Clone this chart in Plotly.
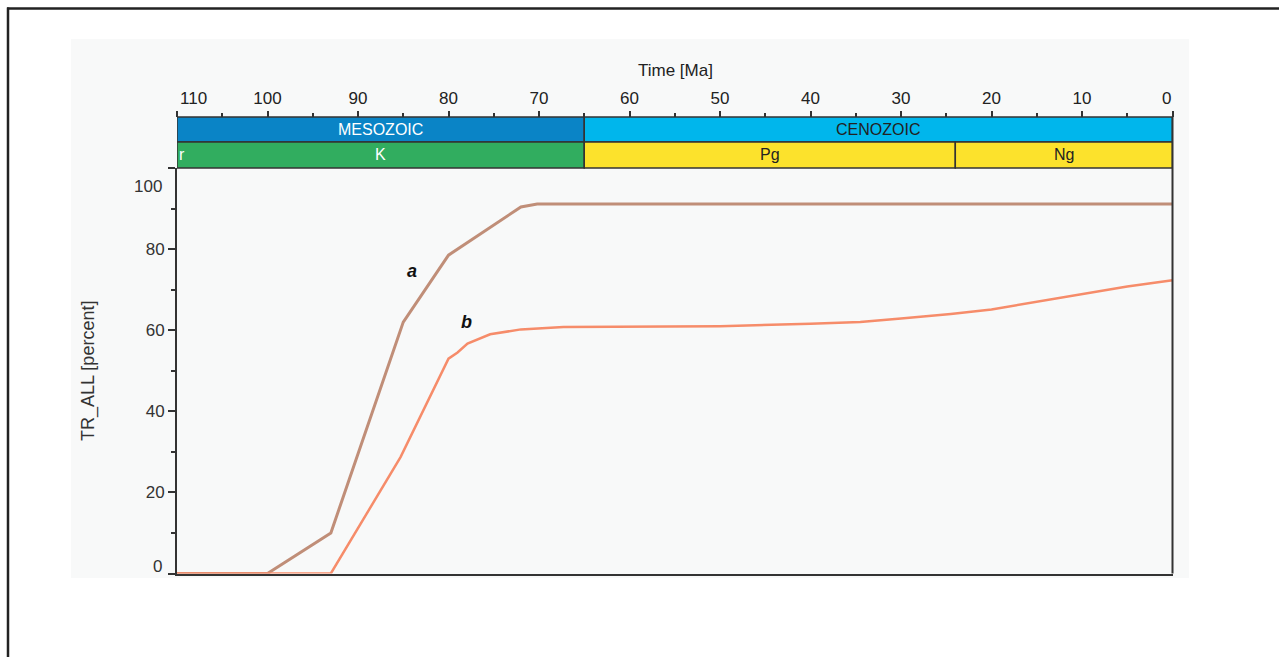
import plotly.graph_objects as go

# Transformation ratio through time for two source-rock scenarios
age_a = [110, 100, 93, 85, 80, 76, 72, 70.2, 0]
tr_a = [0, 0, 10, 62, 78.5, 84.5, 90.4, 91.1, 91.1]

age_b = [110, 93, 85.3, 80, 79, 77.9, 75.4, 72, 67.3, 50, 40, 34.5, 30, 24.5, 20, 15, 10.9, 5, 0]
tr_b = [0, 0, 28.7, 53, 54.5, 56.7, 59, 60.2, 60.8, 61, 61.6, 62, 62.9, 64, 65.1, 67, 68.6, 70.8, 72.3]

# Geologic time scale bands
eras = ["MESOZOIC", "CENOZOIC"]
era_start = [110, 65]
era_end = [65, 0]
era_colors = ["#0a84c6", "#00b6ec"]
era_text = ["white", "#222222"]

periods = ["K", "Pg", "Ng"]
period_start = [110, 65, 24]
period_end = [65, 24, 0]
period_colors = ["#31ad5f", "#fce22c", "#fce22c"]
period_text = ["white", "#222222", "#222222"]

y_ticks = [0, 20, 40, 60, 80, 100]
x_ticks = list(range(0, 111, 10))

W, H = 1279, 657
FONT = "Liberation Sans, Arial, sans-serif"


# page-pixel to paper-fraction helpers
def px(x):
    return x / W


def py(y):
    return 1 - y / H


x_left, x_right = 177, 1172.5
y_plot_top, y_plot_bot = 168, 573.5
y_era_top, y_era_bot = 117, 142

fig = go.Figure()
fig.add_trace(go.Scatter(x=age_a, y=tr_a, mode="lines",
                         line=dict(color="#c08e78", width=3), hoverinfo="skip"))
fig.add_trace(go.Scatter(x=age_b, y=tr_b, mode="lines",
                         line=dict(color="#f68c6a", width=2.5), hoverinfo="skip"))
fig.add_trace(go.Scatter(x=[110, 0], y=[0, 0], mode="lines", xaxis="x2",
                         line=dict(width=0), hoverinfo="skip", opacity=0))

shapes = [
    # outer frame (top and left edges)
    dict(type="line", xref="paper", yref="paper", x0=px(7), x1=1, y0=py(8.5), y1=py(8.5),
         line=dict(color="#222222", width=2.5), layer="below"),
    dict(type="line", xref="paper", yref="paper", x0=px(8), x1=px(8), y0=0, y1=py(7.5),
         line=dict(color="#222222", width=2.5), layer="below"),
    # chart panel
    dict(type="rect", xref="paper", yref="paper", x0=px(71), x1=px(1189), y0=py(578), y1=py(39),
         line=dict(width=0), fillcolor="#f8f9f9", layer="below"),
]
for s, e, c in zip(era_start, era_end, era_colors):
    shapes.append(dict(type="rect", xref="x", yref="paper", x0=s, x1=e,
                       y0=py(y_era_bot), y1=py(y_era_top), fillcolor=c,
                       line=dict(color="#333333", width=1.5), layer="above"))
for s, e, c in zip(period_start, period_end, period_colors):
    shapes.append(dict(type="rect", xref="x", yref="paper", x0=s, x1=e,
                       y0=py(y_plot_top), y1=py(y_era_bot), fillcolor=c,
                       line=dict(color="#333333", width=1.5), layer="above"))
# right-hand frame line of the chart
shapes.append(dict(type="line", xref="paper", yref="paper", x0=px(x_right), x1=px(x_right),
                   y0=py(y_plot_bot), y1=py(y_era_top), line=dict(color="#333333", width=2)))


def note(x, y, text, size, color, xref="paper", yref="paper", xanchor="center", **kw):
    return dict(x=x, y=y, xref=xref, yref=yref, text=text, showarrow=False,
                xanchor=xanchor, yanchor="middle",
                font=dict(family=FONT, size=size, color=color), **kw)


annotations = []
for name, s, e, tc in zip(eras, era_start, era_end, era_text):
    annotations.append(note((s + e) / 2, py((y_era_top + y_era_bot) / 2), name, 16, tc, xref="x"))
for name, s, e, tc in zip(periods, period_start, period_end, period_text):
    annotations.append(note((s + e) / 2, py((y_era_bot + y_plot_top) / 2), name, 16, tc, xref="x"))
# clipped label of the preceding period
annotations.append(note(px(177), py(155), "r", 16, "white", xanchor="left"))
annotations += [
    note(84.0, 74.6, "<b><i>a</i></b>", 18, "#111111", xref="x", yref="y"),
    note(78.0, 62.0, "<b><i>b</i></b>", 18, "#111111", xref="x", yref="y"),
    # end labels kept inside the axis span
    note(px(164), py(186.5), "100", 17, "#333333", xanchor="right"),
    note(px(164), py(566.5), "0", 17, "#333333", xanchor="right"),
    note(px(178), py(99), "110", 17, "#222222", xanchor="left"),
    note(px(1173), py(99), "0", 17, "#222222", xanchor="right"),
    note(px(88), py(371), "TR_ALL [percent]", 18, "#333333", textangle=-90),
    note(px(676), py(71), "Time [Ma]", 17, "#222222"),
]

fig.update_layout(
    width=W, height=H,
    margin=dict(l=0, r=0, t=0, b=0),
    paper_bgcolor="white",
    plot_bgcolor="#f8f9f9",
    showlegend=False,
    font=dict(family=FONT, size=17, color="#333333"),
    shapes=shapes,
    annotations=annotations,
    xaxis=dict(domain=[px(x_left), px(x_right)], range=[110, 0], showticklabels=False,
               ticks="", showgrid=False, zeroline=False, showline=True,
               linecolor="#333333", linewidth=2, anchor="y", fixedrange=True),
    xaxis2=dict(overlaying="x", anchor="free", position=py(y_era_top), side="top",
                range=[110, 0], tickvals=x_ticks,
                ticktext=["" if v in (0, 110) else str(v) for v in x_ticks],
                ticks="outside", ticklen=6, tickcolor="#333333", tickwidth=1.5,
                minor=dict(tickvals=[v + 5 for v in x_ticks[:-1]], ticks="outside", ticklen=4,
                           tickcolor="#333333", tickwidth=1.5),
                showgrid=False, zeroline=False, showline=False,
                tickfont=dict(family=FONT, size=17, color="#222222"), fixedrange=True),
    yaxis=dict(domain=[py(y_plot_bot), py(y_plot_top)], range=[0, 100],
               tickvals=y_ticks, ticktext=["", "20", "40", "60", "80", ""],
               ticks="outside", ticklen=7, tickcolor="#333333", tickwidth=1.5,
               minor=dict(tickvals=[10, 30, 50, 70, 90], ticks="outside", ticklen=4,
                          tickcolor="#333333", tickwidth=1.5),
               showgrid=False, zeroline=False, showline=True, linecolor="#333333", linewidth=2,
               tickfont=dict(family=FONT, size=17, color="#333333"), fixedrange=True),
)

fig.write_html("out.html", post_script="document.body.style.margin='0';")
